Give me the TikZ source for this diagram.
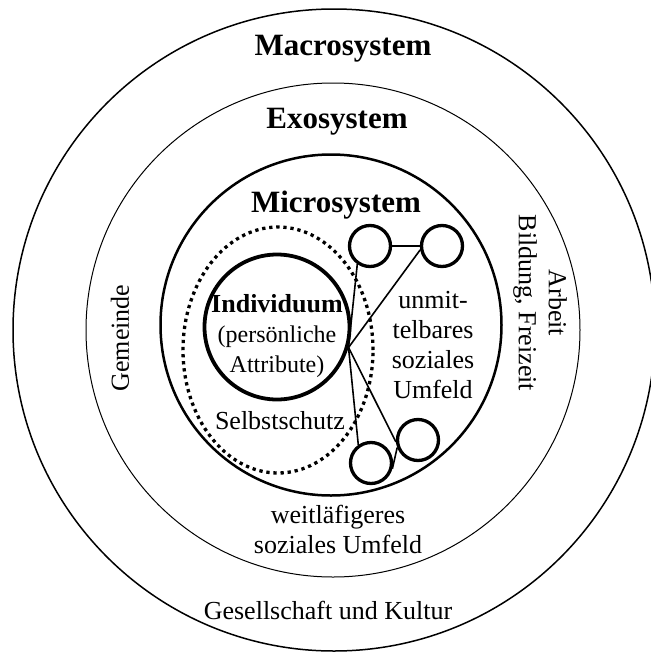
\documentclass[tikz,border=0pt]{standalone}
\usepackage{fontspec}
\setmainfont{Liberation Serif}
\usetikzlibrary{
positioning,
shapes.geometric
}
\tikzset{>=latex}

\begin{document}
\begin{tikzpicture}[x=1pt,y=-1pt,
		every node/.style={font=\fontsize{26}{30}\selectfont, inner sep=0pt},
		ring/.style={draw, circle, inner sep=0pt},
		friend/.style={draw, circle, line width=3.3pt, minimum size=41pt},
		tie/.style={line width=1.6pt}]
		\def\hd{\fontsize{31}{34}\selectfont\bfseries}
		\def\sm{\fontsize{24}{28}\selectfont}
		\useasboundingbox (0,0) rectangle (651,654);
		% system rings
		\node[ring, minimum size=642pt, line width=1.5pt] (macro) at (334,330) {};
		\node[ring, minimum size=494pt, line width=1pt] (exo) at (333,330) {};
		\node[ring, minimum size=341pt, line width=2.5pt] (micro) at (331,325) {};
		\node[draw, ellipse, minimum width=190pt, minimum height=246pt, line width=3.3pt,
			dash pattern=on 3.3pt off 3.8pt] (selbst) at (278,350) {};
		\node[ring, minimum size=145pt, line width=3.8pt] (indiv) at (277,327) {};
		
		% titles
		\node at (343,49) (macrotitle) {\hd Macrosystem};
		\node at (337,122) (exotitle) {\hd Exosystem};
		\node at (336,205) (microtitle) {\hd Microsystem};
		\node[align=center] at (277,336) (indivtext) {\textbf{Individuum}\\{\sm (persönliche}\\{\sm Attribute)}};
		\node at (280,421) (selbsttext) {Selbstschutz};
		
		% social contacts
		\node[friend] (tl) at (370,246) {};
		\node[friend] (tr) at (442,246) {};
		\node[friend] (br) at (418,440) {};
		\node[friend] (bl) at (371,463) {};
		\coordinate (hub) at (indiv.-16);
		\draw[tie] (hub) -- (tl.235);
		\draw[tie] (hub) -- (tr.190);
		\draw[tie] (tl.east) -- (tr.west);
		\draw[tie] (hub) -- (bl.125);
		\draw[tie] (hub) -- (br.185);
		\draw[tie] (bl.345) -- (br.200);
		
		% labels
		\node[align=center] at (433,345) (umfeld) {unmit-\\telbares\\soziales\\Umfeld};
		\node[rotate=90] at (120,338) (gemeinde) {Gemeinde};
		\node[rotate=-90, align=center] at (540,303) (arbeit) {Arbeit\\Bildung, Freizeit};
		\node[align=center] at (338,529) (weit) {weitläfigeres\\soziales Umfeld};
		\node at (328,610) (kultur) {Gesellschaft und Kultur};
\end{tikzpicture}
\end{document}
